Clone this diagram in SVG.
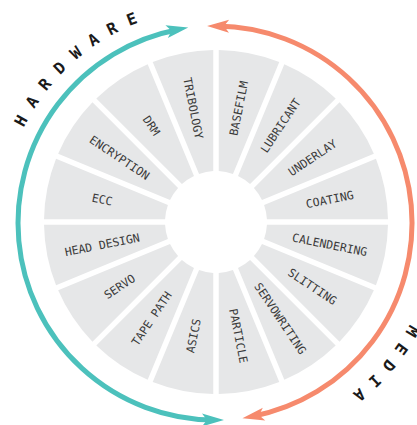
<svg xmlns="http://www.w3.org/2000/svg" xmlns:xlink="http://www.w3.org/1999/xlink" width="417" height="425" viewBox="0 0 417 425">
  <style>
    .seg { fill: #e6e7e8; }
    .lbl { font-family: "DejaVu Sans Mono", "Liberation Mono", monospace; font-size: 11.5px; fill: #3a3a3a; text-anchor: middle; }
    .big { font-family: "DejaVu Sans Mono", "Liberation Mono", monospace; font-size: 16px; font-weight: bold; fill: #1a1a1a; }
    .arc { fill: none; stroke-width: 5; }
  </style>
  <defs>
    <!-- one ring segment centred on angle 0, 22.5 degrees wide, with parallel 5.5px gaps -->
    <path id="wedge" d="M50.48,-7.24 L169.21,-30.86 A172,172 0 0 1 169.21,30.86 L50.48,7.24 A51,51 0 0 0 50.48,-7.24 Z"/>
    <marker id="headTeal" markerUnits="userSpaceOnUse" markerWidth="30" markerHeight="30" viewBox="-15 -15 30 30" refX="0" refY="0" orient="auto-start-reverse">
      <path d="M10,0 L-12,-6.5 L-7,0 L-12,6.5 Z" fill="#4cc1bc"/>
    </marker>
    <marker id="headOrange" markerUnits="userSpaceOnUse" markerWidth="30" markerHeight="30" viewBox="-15 -15 30 30" refX="0" refY="0" orient="auto-start-reverse">
      <path d="M10,0 L-12,-6.5 L-7,0 L-12,6.5 Z" fill="#f68a6d"/>
    </marker>
    <path id="ringHardware" d="M2,222 A214,214 0 0 1 430,222 A214,214 0 0 1 2,222"/>
    <path id="ringMedia" d="M435,222 A219,219 0 0 1 -3,222 A219,219 0 0 1 435,222"/>
  </defs>

  <!-- outer arcs -->
  <g id="connectors">
    <path id="arc-hardware" class="arc" stroke="#4cc1bc" d="M213.97,420.0 A197,197 0 0 1 178.42,29.43" marker-start="url(#headTeal)" marker-end="url(#headTeal)"/>
    <path id="arc-media" class="arc" stroke="#f68a6d" d="M217.06,26.01 A197,197 0 0 1 252.25,416.45" marker-start="url(#headOrange)" marker-end="url(#headOrange)"/>
  </g>

  <g id="group-labels">
    <text class="big" letter-spacing="11.7"><textPath href="#ringHardware" startOffset="97.5">HARDWARE</textPath></text>
    <text class="big" letter-spacing="10.6"><textPath href="#ringMedia" startOffset="106.3">MEDIA</textPath></text>
  </g>

  <g transform="translate(216,222)">
    <!-- media side -->
    <g id="basefilm"><use href="#wedge" class="seg" transform="rotate(-78.75)"/><text class="lbl" dy="4.2" transform="rotate(-78.75) translate(116 0)">BASEFILM</text></g>
    <g id="lubricant"><use href="#wedge" class="seg" transform="rotate(-56.25)"/><text class="lbl" dy="4.2" transform="rotate(-56.25) translate(116 0)">LUBRICANT</text></g>
    <g id="underlay"><use href="#wedge" class="seg" transform="rotate(-33.75)"/><text class="lbl" dy="4.2" transform="rotate(-33.75) translate(116 0)">UNDERLAY</text></g>
    <g id="coating"><use href="#wedge" class="seg" transform="rotate(-11.25)"/><text class="lbl" dy="4.2" transform="rotate(-11.25) translate(116 0)">COATING</text></g>
    <g id="calendering"><use href="#wedge" class="seg" transform="rotate(11.25)"/><text class="lbl" dy="4.2" transform="rotate(11.25) translate(116 0)">CALENDERING</text></g>
    <g id="slitting"><use href="#wedge" class="seg" transform="rotate(33.75)"/><text class="lbl" dy="4.2" transform="rotate(33.75) translate(116 0)">SLITTING</text></g>
    <g id="servowriting"><use href="#wedge" class="seg" transform="rotate(56.25)"/><text class="lbl" dy="4.2" transform="rotate(56.25) translate(116 0)">SERVOWRITING</text></g>
    <g id="particle"><use href="#wedge" class="seg" transform="rotate(78.75)"/><text class="lbl" dy="4.2" transform="rotate(78.75) translate(116 0)">PARTICLE</text></g>
    <!-- hardware side -->
    <g id="asics"><use href="#wedge" class="seg" transform="rotate(101.25)"/><text class="lbl" dy="4.2" transform="rotate(101.25) translate(116 0) rotate(180)">ASICS</text></g>
    <g id="tape-path"><use href="#wedge" class="seg" transform="rotate(123.75)"/><text class="lbl" dy="4.2" transform="rotate(123.75) translate(116 0) rotate(180)">TAPE PATH</text></g>
    <g id="servo"><use href="#wedge" class="seg" transform="rotate(146.25)"/><text class="lbl" dy="4.2" transform="rotate(146.25) translate(116 0) rotate(180)">SERVO</text></g>
    <g id="head-design"><use href="#wedge" class="seg" transform="rotate(168.75)"/><text class="lbl" dy="4.2" transform="rotate(168.75) translate(116 0) rotate(180)">HEAD DESIGN</text></g>
    <g id="ecc"><use href="#wedge" class="seg" transform="rotate(191.25)"/><text class="lbl" dy="4.2" transform="rotate(191.25) translate(116 0) rotate(180)">ECC</text></g>
    <g id="encryption"><use href="#wedge" class="seg" transform="rotate(213.75)"/><text class="lbl" dy="4.2" transform="rotate(213.75) translate(116 0) rotate(180)">ENCRYPTION</text></g>
    <g id="drm"><use href="#wedge" class="seg" transform="rotate(236.25)"/><text class="lbl" dy="4.2" transform="rotate(236.25) translate(116 0) rotate(180)">DRM</text></g>
    <g id="tribology"><use href="#wedge" class="seg" transform="rotate(258.75)"/><text class="lbl" dy="4.2" transform="rotate(258.75) translate(116 0) rotate(180)">TRIBOLOGY</text></g>
  </g>
</svg>
